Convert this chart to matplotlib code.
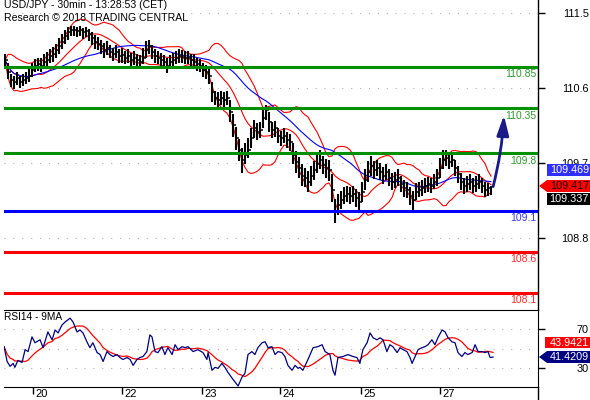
import numpy as np
import pandas as pd
import matplotlib
matplotlib.use("Agg")
import matplotlib.pyplot as plt
from matplotlib.patches import Rectangle, Polygon
from matplotlib.lines import Line2D

plt.rcParams['font.family'] = ['Liberation Sans', 'DejaVu Sans']

# USD/JPY 30min bars
close = [110.93, 110.79, 110.69, 110.66, 110.71, 110.66, 110.69, 110.71, 110.74, 110.81,
         110.86, 110.88, 110.86, 110.91, 110.93, 110.98, 111.00, 111.05, 111.10, 111.15,
         111.22, 111.27, 111.30, 111.30, 111.29, 111.30, 111.27, 111.29, 111.25, 111.20,
         111.15, 111.13, 111.10, 111.05, 111.08, 111.03, 111.00, 111.03, 110.98, 110.99,
         110.96, 110.98, 110.93, 110.96, 110.93, 110.91, 110.96, 111.05, 111.10, 111.03,
         110.98, 110.96, 110.93, 110.91, 110.86, 110.91, 110.93, 110.96, 110.98, 110.97,
         110.96, 110.96, 110.93, 110.91, 110.88, 110.86, 110.81, 110.79, 110.74, 110.54,
         110.47, 110.45, 110.47, 110.45, 110.47, 110.30, 110.14, 109.98, 109.84, 109.72,
         109.78, 109.84, 109.98, 110.10, 110.06, 110.08, 110.23, 110.32, 110.18, 110.08,
         110.10, 110.01, 109.98, 110.01, 109.96, 109.93, 109.78, 109.69, 109.62, 109.52,
         109.50, 109.45, 109.52, 109.59, 109.67, 109.72, 109.65, 109.62, 109.59, 109.35,
         109.08, 109.17, 109.23, 109.28, 109.30, 109.28, 109.30, 109.25, 109.20, 109.33,
         109.47, 109.57, 109.64, 109.59, 109.62, 109.57, 109.52, 109.57, 109.50, 109.45,
         109.47, 109.50, 109.42, 109.37, 109.35, 109.28, 109.23, 109.33, 109.35, 109.37,
         109.40, 109.42, 109.40, 109.45, 109.50, 109.62, 109.72, 109.74, 109.69, 109.72,
         109.62, 109.54, 109.45, 109.40, 109.42, 109.45, 109.40, 109.42, 109.45, 109.40,
         109.35, 109.37, 109.34]
high = [111.00, 110.90, 110.76, 110.74, 110.79, 110.74, 110.76, 110.78, 110.82, 110.90,
        110.94, 110.96, 110.95, 111.00, 111.03, 111.07, 111.09, 111.13, 111.20, 111.25,
        111.30, 111.33, 111.34, 111.34, 111.33, 111.34, 111.32, 111.33, 111.31, 111.27,
        111.23, 111.21, 111.18, 111.14, 111.16, 111.12, 111.08, 111.11, 111.07, 111.08,
        111.04, 111.06, 111.02, 111.04, 111.01, 110.99, 111.08, 111.16, 111.18, 111.12,
        111.06, 111.04, 111.02, 110.99, 110.95, 110.99, 111.02, 111.04, 111.06, 111.05,
        111.04, 111.04, 111.01, 111.00, 110.96, 110.94, 110.90, 110.87, 110.83, 110.66,
        110.56, 110.54, 110.56, 110.54, 110.56, 110.44, 110.28, 110.12, 109.97, 109.86,
        109.92, 109.98, 110.10, 110.20, 110.16, 110.18, 110.34, 110.39, 110.30, 110.18,
        110.19, 110.10, 110.07, 110.10, 110.05, 110.03, 109.92, 109.82, 109.75, 109.66,
        109.62, 109.58, 109.64, 109.70, 109.78, 109.84, 109.76, 109.73, 109.71, 109.54,
        109.24, 109.30, 109.34, 109.38, 109.40, 109.38, 109.40, 109.36, 109.32, 109.45,
        109.60, 109.70, 109.76, 109.70, 109.72, 109.68, 109.63, 109.67, 109.60, 109.56,
        109.57, 109.60, 109.52, 109.47, 109.45, 109.39, 109.34, 109.43, 109.45, 109.47,
        109.49, 109.51, 109.49, 109.55, 109.60, 109.74, 109.84, 109.84, 109.79, 109.80,
        109.72, 109.64, 109.56, 109.50, 109.52, 109.55, 109.50, 109.52, 109.54, 109.50,
        109.45, 109.44, 109.40]
low = [110.86, 110.70, 110.60, 110.58, 110.63, 110.59, 110.61, 110.64, 110.66, 110.73,
       110.78, 110.80, 110.79, 110.83, 110.85, 110.89, 110.91, 110.96, 111.01, 111.06,
       111.13, 111.18, 111.22, 111.22, 111.21, 111.22, 111.19, 111.21, 111.16, 111.11,
       111.06, 111.05, 111.01, 110.96, 110.99, 110.95, 110.92, 110.95, 110.89, 110.90,
       110.88, 110.89, 110.84, 110.87, 110.84, 110.82, 110.88, 110.95, 111.00, 110.94,
       110.90, 110.88, 110.85, 110.82, 110.77, 110.83, 110.85, 110.88, 110.90, 110.89,
       110.88, 110.88, 110.85, 110.83, 110.80, 110.78, 110.73, 110.70, 110.64, 110.42,
       110.38, 110.36, 110.39, 110.36, 110.38, 110.18, 110.00, 109.84, 109.70, 109.56,
       109.66, 109.74, 109.86, 109.98, 109.96, 109.98, 110.10, 110.20, 110.06, 109.98,
       110.00, 109.92, 109.89, 109.92, 109.86, 109.83, 109.66, 109.56, 109.49, 109.40,
       109.38, 109.32, 109.40, 109.47, 109.56, 109.60, 109.54, 109.50, 109.46, 109.20,
       108.95, 109.05, 109.12, 109.18, 109.20, 109.18, 109.20, 109.14, 109.10, 109.20,
       109.35, 109.45, 109.52, 109.48, 109.52, 109.47, 109.42, 109.47, 109.40, 109.35,
       109.37, 109.40, 109.32, 109.27, 109.25, 109.17, 109.10, 109.23, 109.26, 109.28,
       109.31, 109.33, 109.31, 109.36, 109.40, 109.50, 109.60, 109.64, 109.60, 109.63,
       109.52, 109.44, 109.35, 109.30, 109.32, 109.35, 109.31, 109.33, 109.36, 109.31,
       109.26, 109.28, 109.29]

# RSI14 readings (time in bar units, value)
rsi_t = [-0.3, 0.7, 1.7, 2.7, 3.3, 4.3, 5.7, 6.7, 7.7, 9, 10, 11.7, 12.7, 14.3, 15.7, 16.7,
         17.7, 19, 20, 21.7, 22.7, 24, 25, 26, 27.3, 28.3, 29.3, 30.7, 31.7, 32.7, 34, 35, 36,
         37.3, 38.3, 39.3, 40.7, 41.7, 42.7, 44, 45, 46, 47.3, 48.3, 49, 50, 51, 52.3, 53.3,
         54.3, 55.7, 56.7, 57.7, 59, 60, 61, 62.7, 64.3, 66, 67.3, 67.7, 69, 70, 71, 72.3,
         73.3, 74.3, 75.7, 76.7, 77.7, 79, 80, 81, 82.3, 83.3, 84.3, 85.7, 86.7, 87.7, 89, 90,
         91, 92.3, 93.3, 94.3, 95.7, 96.7, 97.7,
         98.3, 99.3, 101, 102.7, 104.3, 105.7, 106.7, 108.3, 109.3, 110, 111, 112.7, 114.3,
         116, 117.3, 118.3, 119.3, 120.7, 121.7, 122.7, 124, 125, 126, 127.3, 128.3, 129.3,
         130.7, 131.7, 132.7, 134, 135, 135.7, 136.7, 137.7, 139, 140, 141, 142.3, 143.3,
         144.3, 145.7, 146.7, 147.7, 149, 150, 151, 152.3, 153.3, 154.3, 155.7, 156.7, 157.7,
         159, 160, 161, 161.7, 162.7]
rsi_v = [52, 37, 32, 35, 31, 38, 36, 49, 47, 62, 56, 59, 51, 67, 59, 69, 66, 74, 77, 81,
         77, 67, 69, 66, 57, 51, 56, 46, 44, 37, 47, 44, 42, 44, 41, 39, 41, 39, 33, 39,
         41, 42, 47, 64, 62, 47, 46, 52, 44, 51, 44, 54, 49, 52, 51, 52, 47, 49, 46, 39,
         46, 28, 31, 30, 35, 31, 26, 20, 16, 12, 21, 25, 44, 47, 44, 51, 56, 57, 51, 52,
         44, 47, 46, 42, 33, 28, 33, 30,
         31, 28, 39, 51, 52, 54, 47, 44, 28, 23, 41, 42, 44, 42, 41, 35, 49, 56, 66, 61,
         59, 61, 59, 47, 54, 52, 46, 51, 49, 47, 41, 35, 42, 49, 51, 52, 54, 59, 54, 61,
         69, 67, 61, 57, 56, 46, 42, 46, 44, 46, 54, 47, 47, 46, 47, 41, 41.42]

# support / resistance levels
green_levels = [110.85, 110.35, 109.8]
blue_levels = [109.1]
red_levels = [108.6, 108.1]

day_pos = [9.3, 39, 65.7, 91.7, 118.7, 145]
day_lbl = ['20', '22', '23', '24', '25', '27']

ytick_vals = [111.5, 110.587, 109.675, 108.762]
ytick_lbl = ['111.5', '110.6', '109.7', '108.8']

target = (166.3, 110.26)

# indicators
c = pd.Series(close)
mid = c.rolling(12, min_periods=1).mean()
sd = c.rolling(12, min_periods=1).std(ddof=0)
upper = mid + 2 * sd
lower = mid - 2 * sd
ma_long = c.rolling(30, min_periods=1).mean()
rsi_ma = pd.Series(rsi_v).rolling(7, min_periods=1).mean()

idx = np.arange(len(close))
opn = [close[0]] + close[:-1]

W, H = 590, 400
def fx(x): return x / W
def fy(y): return 1 - y / H

fig = plt.figure(figsize=(5.9, 4.0), dpi=100)
ax = fig.add_axes([fx(4), fy(310), fx(538) - fx(4), 310 / H])
axr = fig.add_axes([fx(4), fy(387), fx(538) - fx(4), 77 / H])

xl = (-0.33, 177.67)

# main panel
for v in ytick_vals:
    ax.axhline(v, color='#b4b4b4', lw=0.8, ls=(0, (1, 7)), zorder=0)
ax.plot(idx, upper, color='red', lw=0.8, zorder=2)
ax.plot(idx, lower, color='red', lw=0.8, zorder=2)
ax.plot(idx, mid, color='red', lw=0.8, zorder=2)
ax.plot(idx, ma_long, color='blue', lw=0.8, zorder=2)
ax.vlines(idx, low, high, color='black', lw=1.5, zorder=3)
ax.hlines(close, idx, idx + 0.5, color='black', lw=1.1, zorder=3)
ax.hlines(opn, idx - 0.5, idx, color='black', lw=1.1, zorder=3)

for lv in green_levels:
    ax.axhline(lv, color='#009000', lw=2.2, zorder=4)
for lv in blue_levels:
    ax.axhline(lv, color='#0000ff', lw=2.2, zorder=4)
for lv in red_levels:
    ax.axhline(lv, color='#ff0000', lw=2.2, zorder=4)

for lv, col in ([(v, '#2f9a2f') for v in green_levels] + [(v, '#3a3aff') for v in blue_levels]
                + [(v, '#ff2a2a') for v in red_levels]):
    ax.annotate(f'{lv:g}', xy=(1, lv), xycoords=('axes fraction', 'data'),
                xytext=(-1, -2), textcoords='offset points', ha='right', va='top',
                color=col, fontsize=7.5, zorder=5)

ax.annotate('', xy=target, xytext=(idx[-1] + 0.7, close[-1] + 0.05),
            arrowprops=dict(arrowstyle='-|>,head_length=1.0,head_width=0.3', color='#1a1a8a',
                            lw=2.0, mutation_scale=12, shrinkA=0, shrinkB=0,
                            connectionstyle='arc3,rad=0.05'), zorder=6)

ax.set_xlim(xl)
ax.set_ylim(107.889, 111.662)
ax.set_xticks([])
ax.yaxis.tick_right()
ax.set_yticks(ytick_vals, ytick_lbl)
ax.tick_params(axis='y', direction='out', length=5, width=1, pad=31.5, labelsize=7.8)
for t in ax.get_yticklabels():
    t.set_ha('right')
for s in ['top', 'left', 'bottom']:
    ax.spines[s].set_visible(False)
ax.spines['right'].set_linewidth(1)

ax.text(0, 1, 'USD/JPY - 30min - 13:28:53 (CET)', transform=ax.transAxes, fontsize=7.6,
        va='top', ha='left')
ax.text(0, 1 - 13 / 310, 'Research \u00a9 2018 TRADING CENTRAL', transform=ax.transAxes,
        fontsize=7.6, va='top', ha='left')

# RSI panel
for v in [70, 50, 30]:
    axr.axhline(v, color='#b4b4b4', lw=0.8, ls=(0, (1, 7)), zorder=0)
axr.plot(rsi_t, rsi_ma, color='red', lw=0.9)
axr.plot(rsi_t, rsi_v, color='#000080', lw=0.9)
axr.set_xlim(xl)
axr.set_ylim(11.0, 89.3)
axr.yaxis.tick_right()
axr.set_yticks([70, 30], ['70', '30'])
axr.tick_params(axis='y', direction='out', length=5, width=1, pad=31.5, labelsize=7.8)
for t in axr.get_yticklabels():
    t.set_ha('right')
axr.set_xticks(day_pos, [''] * len(day_pos))
axr.tick_params(axis='x', direction='out', length=5, width=1)
for p, lbl in zip(day_pos, day_lbl):
    axr.annotate(lbl, xy=(p, 0), xycoords=('data', 'axes fraction'), xytext=(1.5, -1.5),
                 textcoords='offset points', ha='left', va='top', fontsize=8)
axr.spines['left'].set_visible(False)
axr.text(0, 0.97, 'RSI14 - 9MA', transform=axr.transAxes, fontsize=7.3, va='top', ha='left')

fig.add_artist(Line2D([fx(538), fx(538)], [0, fy(387)], color='black', lw=1,
                      transform=fig.transFigure))

# value boxes on the right
def box(x0, y0, x1, y1, col, txt, tcol='white', arrow=False):
    fig.add_artist(Rectangle((fx(x0), fy(y1)), fx(x1) - fx(x0), (y1 - y0) / H,
                             transform=fig.transFigure, fc=col, ec='none', zorder=10))
    if arrow:
        ym = (y0 + y1) / 2
        fig.add_artist(Polygon([(fx(539), fy(ym)), (fx(x0), fy(y0)), (fx(x0), fy(y1))],
                               closed=True, transform=fig.transFigure, fc=col, ec='none',
                               zorder=10))
    fig.text(fx(x1 - 1), fy((y0 + y1) / 2), txt, color=tcol, fontsize=7.8, ha='right',
             va='center', zorder=11)

box(547, 164, 590, 176, '#2f2fff', '109.469')
box(547, 180, 590, 192, '#ff0000', '109.417', tcol='#200000', arrow=True)
box(547, 193, 590, 205, '#000000', '109.337')
box(545, 337, 590, 348, '#ff0000', '43.9421')
box(547, 351, 590, 363, '#000080', '41.4209', arrow=True)

fig.savefig('out.png', dpi=100)
